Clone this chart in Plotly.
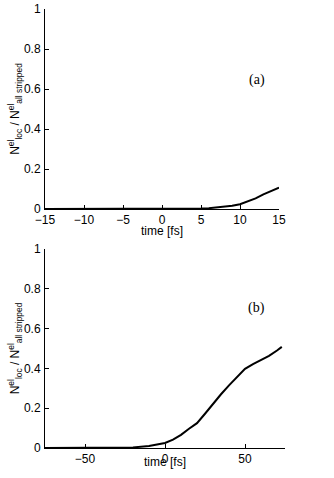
import plotly.graph_objects as go

# panel (a)
time_a = [-15, -10, -5, 0, 2, 4, 5, 6, 7, 8, 9, 10, 11, 12, 13, 14, 15]
frac_a = [0, 0, 0, 0, 0, 0.001, 0.002, 0.004, 0.007, 0.011, 0.016, 0.024, 0.038, 0.053, 0.073, 0.091, 0.107]

# panel (b)
time_b = [-75, -50, -30, -20, -10, -5, 0, 5, 10, 15, 20, 25, 30, 35, 40, 45, 50, 55, 60, 65, 70, 73]
frac_b = [0, 0, 0, 0.003, 0.01, 0.016, 0.025, 0.042, 0.066, 0.097, 0.125, 0.172, 0.222, 0.27, 0.315, 0.358, 0.398, 0.422, 0.443, 0.463, 0.49, 0.508]

y_ticks = [0, 0.2, 0.4, 0.6, 0.8, 1]
y_tick_text = ["0", "0.2", "0.4", "0.6", "0.8", "1"]
x_ticks_a = [-15, -10, -5, 0, 5, 10, 15]
x_ticks_b = [-50, 0, 50]

ytitle = "N<sup>el</sup><sub>loc</sub> / N<sup>el</sup><sub>all stripped</sub>"
xtitle = "time [fs]"

W, H = 334, 478


def px_x(x):
    return x / W


def px_y(y):
    return (H - y) / H


fig = go.Figure()
fig.add_trace(go.Scatter(x=time_a, y=frac_a, mode="lines",
                         line=dict(color="black", width=2), xaxis="x", yaxis="y", showlegend=False))
fig.add_trace(go.Scatter(x=time_b, y=frac_b, mode="lines",
                         line=dict(color="black", width=2), xaxis="x2", yaxis="y2", showlegend=False))

font = dict(family="Liberation Sans, Arial, sans-serif", size=12, color="black")
axis_common = dict(showline=True, linecolor="black", linewidth=1, ticks="inside", ticklen=4,
                   tickcolor="black", showgrid=False, zeroline=False, mirror=False,
                   tickfont=font, automargin=False, ticklabeloverflow="allow")

serif = dict(family="Liberation Serif, Times New Roman, serif", size=14, color="black")
title_font = dict(family="Liberation Sans, Arial, sans-serif", size=12, color="black")

fig.update_layout(
    width=W, height=H,
    margin=dict(l=0, r=0, t=0, b=0, autoexpand=False),
    paper_bgcolor="white", plot_bgcolor="white",
    font=font,
    xaxis=dict(axis_common, domain=[px_x(45), px_x(279)], range=[-15, 15], tickvals=x_ticks_a, anchor="y"),
    yaxis=dict(axis_common, domain=[px_y(209), px_y(9)], range=[0, 1], tickvals=y_ticks,
               ticktext=y_tick_text, anchor="x", ticklabelstandoff=1,
               title=dict(text=ytitle, font=title_font, standoff=0)),
    xaxis2=dict(axis_common, domain=[px_x(45), px_x(285)], range=[-75, 75], tickvals=x_ticks_b, anchor="y2"),
    yaxis2=dict(axis_common, domain=[px_y(448), px_y(249)], range=[0, 1], tickvals=y_ticks,
                ticktext=y_tick_text, anchor="x2", ticklabelstandoff=1,
                title=dict(text=ytitle, font=title_font, standoff=0)),
    annotations=[
        dict(text="(a)", x=px_x(267), y=px_y(70), xref="paper", yref="paper", showarrow=False, font=serif),
        dict(text="(b)", x=px_x(267), y=px_y(308), xref="paper", yref="paper", showarrow=False, font=serif),
        dict(text=xtitle, x=px_x(162), y=px_y(231), xref="paper", yref="paper", showarrow=False, font=title_font),
        dict(text=xtitle, x=px_x(165), y=px_y(471), xref="paper", yref="paper", showarrow=False, font=title_font),
    ],
)

# remove the page's default body margin so the figure sits at the window's top-left corner
fig.write_html("out.html", config={"displayModeBar": False},
               post_script="document.body.style.margin='0px';")
